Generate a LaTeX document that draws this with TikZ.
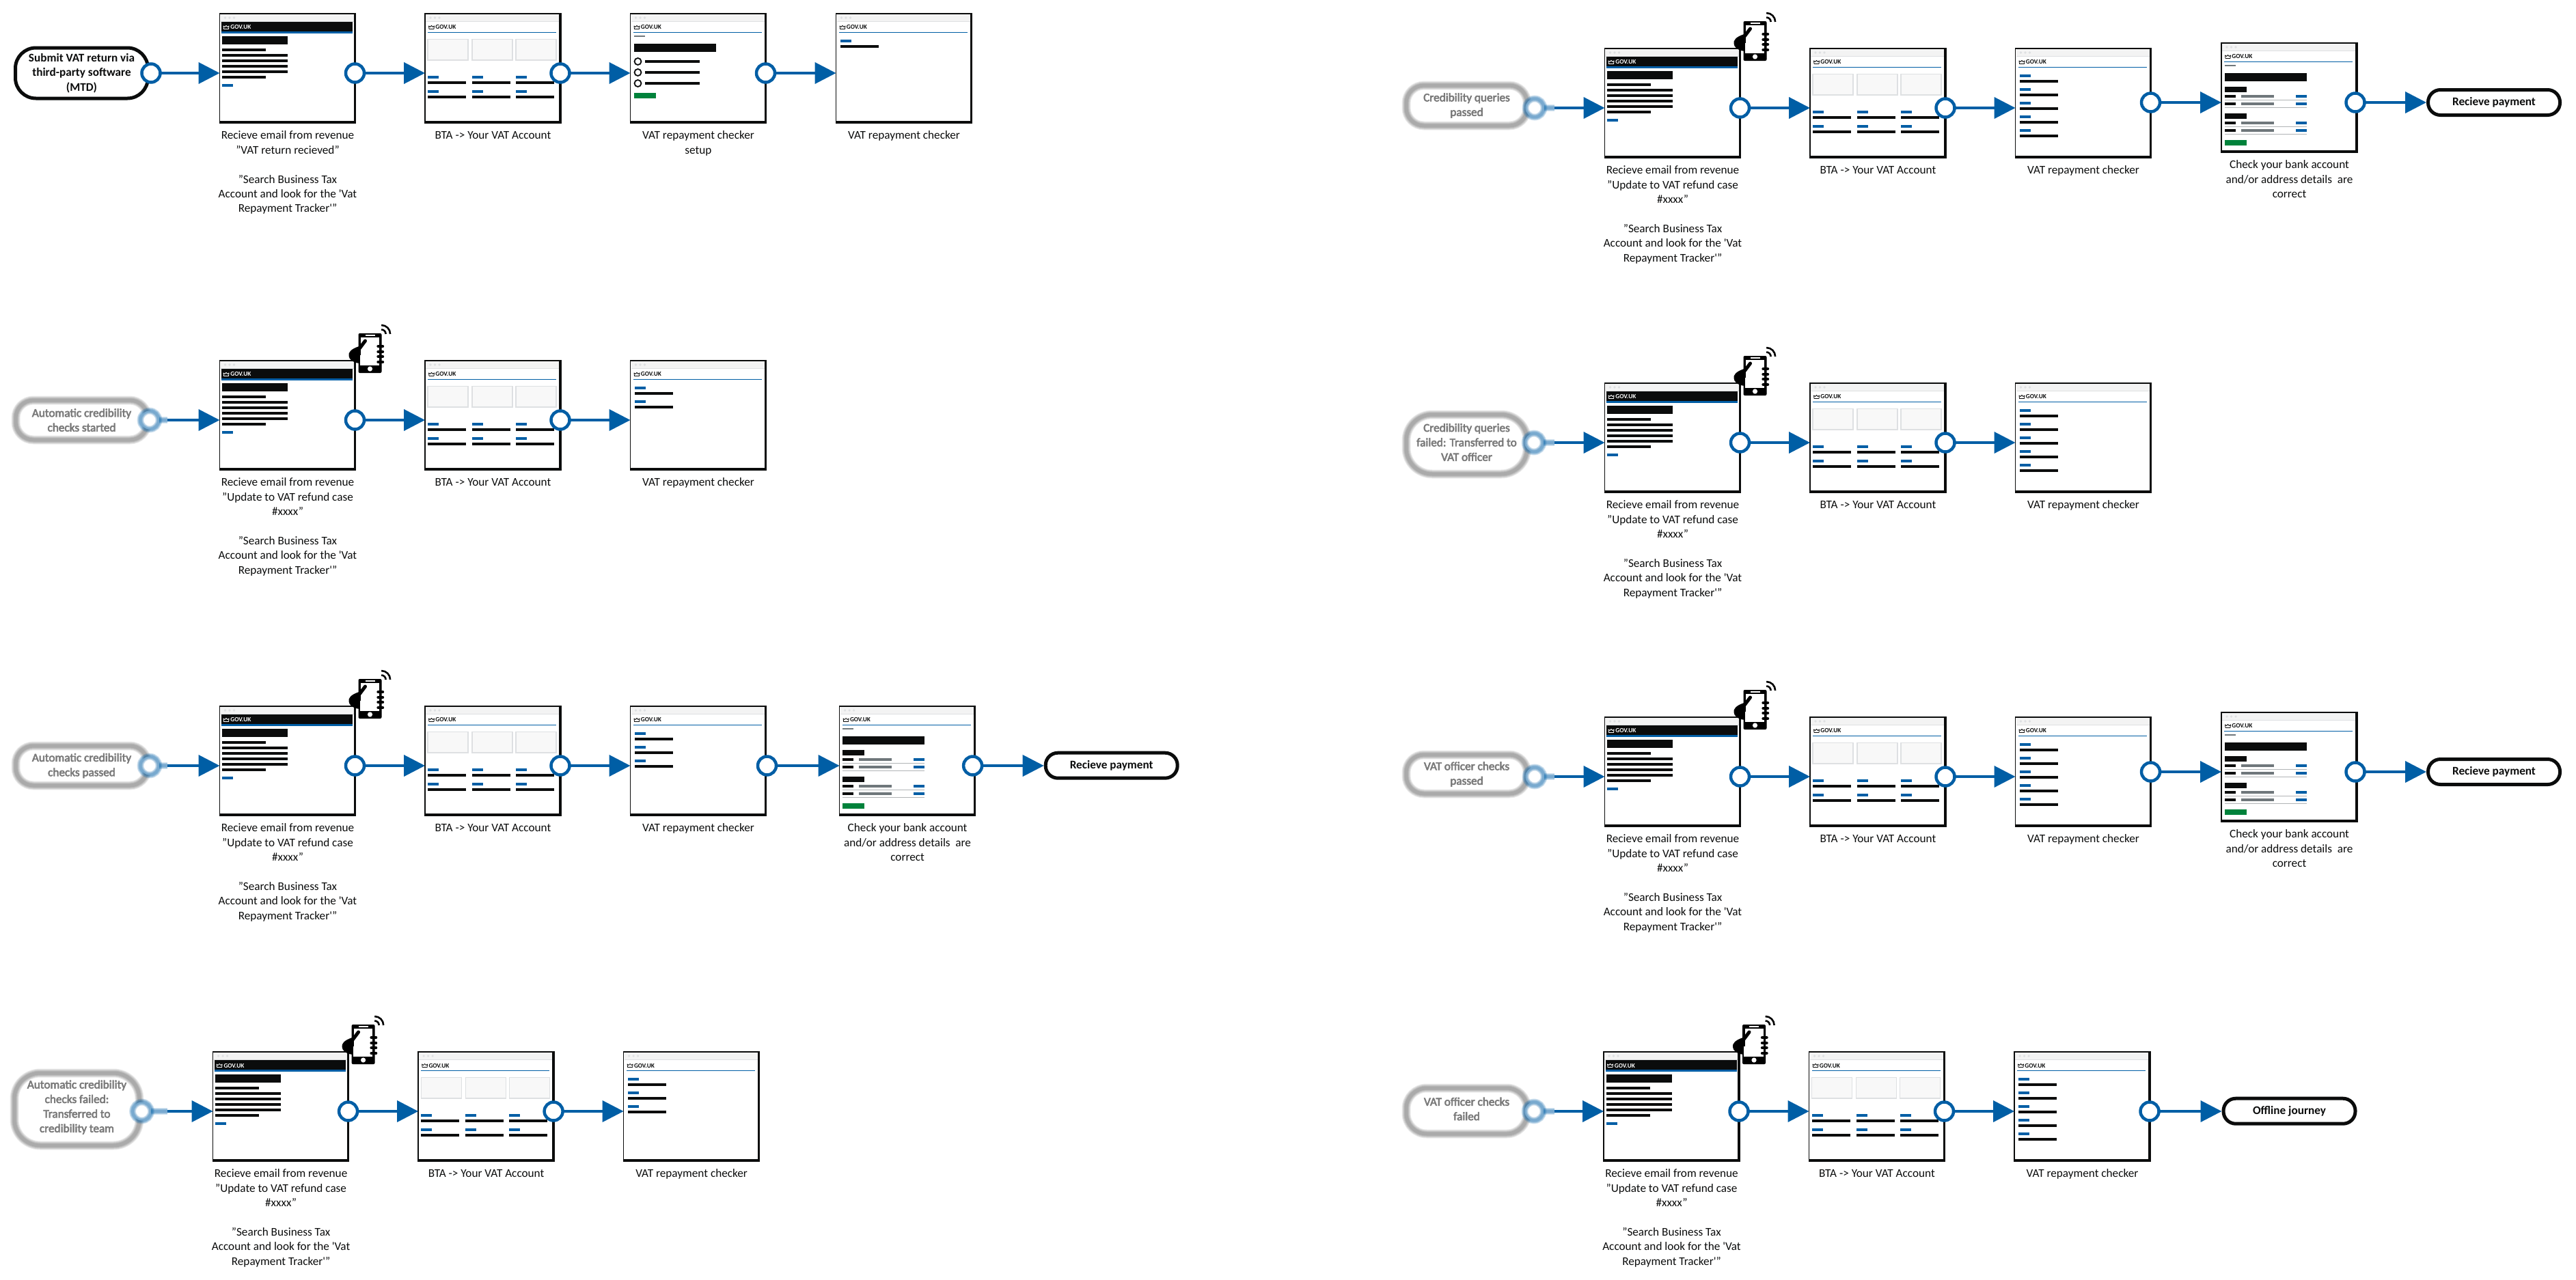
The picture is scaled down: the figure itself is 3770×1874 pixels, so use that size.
\documentclass[tikz,border=0pt]{standalone}
\usepackage{fontspec}
\setmainfont{Carlito}
\newfontfamily\blurfont[FakeBold=3.5]{Carlito}
\usetikzlibrary{positioning,calc,arrows.meta}
\definecolor{govBlue}{HTML}{005EA5}
\definecolor{inkBlack}{HTML}{0B0C0C}
\definecolor{govGreen}{HTML}{00823B}
\definecolor{govGrey}{HTML}{6F777B}
\definecolor{barGrey}{HTML}{F3F3F3}
\definecolor{barLine}{HTML}{DEE0E2}
\definecolor{cardGrey}{HTML}{F8F8F8}
\definecolor{ruleGrey}{HTML}{B1B4B6}
\tikzset{
  screen/.style = {rectangle, draw=inkBlack, fill=white, line width=.75pt, inner sep=0, outer sep=0, minimum width=99.5pt, minimum height=80pt},
  caption/.style = {align=center, inner sep=0, text=inkBlack, font=\fontsize{8.6}{10.7}\selectfont},
  logo/.style = {anchor=west, inner sep=0, font=\fontsize{4.6}{5}\selectfont\bfseries},
  port/.style = {circle, draw=govBlue, fill=white, line width=2.25pt, minimum size=13.5pt, inner sep=0, outer sep=0},
  flow/.style = {draw=govBlue, line width=2pt, -{Triangle[length=15.5pt,width=15.5pt]}, fill=govBlue},
  pill/.style = {rectangle, draw=inkBlack, fill=white, line width=2.5pt, rounded corners=#1, align=center, inner sep=0, font=\fontsize{8.6}{10.7}\selectfont\bfseries, text=inkBlack},
  pill/.default = 9pt,
  blurlabel/.style = {align=center, inner sep=0, text=black!52, font=\blurfont\fontsize{8.6}{10.7}\selectfont},
  blurport/.style = {circle, fill=white, minimum size=13.5pt, inner sep=0, outer sep=0}
}
% browser bar, common to all pages
\newcommand{\screenbox}[2]{
  \node[screen, #2] (#1) {};
  \begin{scope}[shift={(#1.north west)}]
    \fill[barGrey] (1,1) rectangle (196,11);
    \fill[barLine] (1,11) rectangle (196,12);
    \foreach \dotx in {8,14.5,21} \fill[barLine] (\dotx,6) circle (1.8);
    \fill[inkBlack] (196,0) rectangle (199,160);
    \fill[inkBlack] (0,157) rectangle (199,160);
  \end{scope}
}
\newcommand{\crownmark}[1]{
  \draw[#1, line width=.4pt, line join=round] (5.5,18) -- (6,22.5) -- (13,22.5) -- (13.5,18) -- (11.5,19.5) -- (9.5,17.5) -- (7.5,19.5) -- cycle;
}
\newcommand{\lighthead}[1]{
  \crownmark{inkBlack}
  \node[logo, text=inkBlack] (#1logo) at (15,20) {GOV.UK};
  \fill[govBlue] (4,27) rectangle (192,28);
}
\newcommand{\emailpage}[1]{
  \begin{scope}[shift={(#1.north west)}]
    \fill[inkBlack] (2.5,12) rectangle (194.5,26);
    \fill[govBlue] (2.5,26) rectangle (194.5,28.5);
    \crownmark{white}
    \node[logo, text=white] (#1logo) at (15.5,20) {GOV.UK};
    \fill[inkBlack] (3.5,33) rectangle (99.5,45);
    \foreach \liney/\linex in {51/67.5,59/99.5,67/99.5,75/99.5,83/99.5,91/67.5}
      \fill[inkBlack] (3.5,\liney) rectangle (\linex,\liney+4);
    \fill[govBlue] (3.5,103) rectangle (19.5,107);
  \end{scope}
}
\newcommand{\accountpage}[1]{
  \begin{scope}[shift={(#1.north west)}]
    \lighthead{#1}
    \foreach \colx in {4,69,133} {
      \draw[barLine, fill=cardGrey, line width=.6pt] (\colx,37.5) rectangle (\colx+59,68);
      \foreach \liney in {91,112} {
        \fill[govBlue] (\colx,\liney) rectangle (\colx+16,\liney+4);
        \fill[inkBlack] (\colx,\liney+8) rectangle (\colx+56,\liney+12);
      }
    }
  \end{scope}
}
\newcommand{\setuppage}[1]{
  \begin{scope}[shift={(#1.north west)}]
    \lighthead{#1}
    \fill[govGrey] (5,32) rectangle (21,34);
    \fill[inkBlack] (5,44) rectangle (125,56);
    \foreach \liney in {70,86,102} {
      \draw[inkBlack, line width=.9pt] (11,\liney) circle (5);
      \fill[inkBlack] (21,\liney-2) rectangle (101,\liney+2);
    }
    \fill[govGreen] (5,116) rectangle (37,124);
  \end{scope}
}
\newcommand{\checkerpage}[2]{
  \begin{scope}[shift={(#1.north west)}]
    \lighthead{#1}
    \foreach \k in {1,...,#2} {
      \fill[govBlue] (6,18+20*\k) rectangle (22,22+20*\k);
      \fill[inkBlack] (6,26+20*\k) rectangle (62,30+20*\k);
    }
  \end{scope}
}
\newcommand{\bankpage}[1]{
  \begin{scope}[shift={(#1.north west)}]
    \lighthead{#1}
    \fill[govGrey] (4.6,32) rectangle (20.6,34);
    \fill[inkBlack] (4.6,44) rectangle (124.6,56);
    \foreach \blocky in {64,103} {
      \fill[inkBlack] (4.6,\blocky) rectangle (36.6,\blocky+8);
      \foreach \liney in {12,23} {
        \fill[inkBlack] (4.6,\blocky+\liney) rectangle (20.6,\blocky+\liney+4);
        \fill[govGrey] (28.6,\blocky+\liney) rectangle (76.6,\blocky+\liney+4);
        \fill[govBlue] (108.6,\blocky+\liney) rectangle (124.6,\blocky+\liney+4);
        \fill[ruleGrey] (4.6,\blocky+\liney+7) rectangle (124.6,\blocky+\liney+8);
      }
    }
    \fill[govGreen] (4.6,142) rectangle (36.6,150);
  \end{scope}
}
\newcommand{\phonemark}[1]{
  \begin{scope}[shift={(#1.north west)}]
    \fill[black, rounded corners=1pt] (203,-40) rectangle (237,18);
    \fill[white] (206.5,-34.5) rectangle (233.5,7);
    \fill[white] (213,-38) rectangle (227,-36.5);
    \fill[white] (220,12) circle (3.6);
    \fill[black] (204,-21) .. controls (192,-17) and (188,-12) .. (189,-7) .. controls (189.5,-2) and (194,1) .. (199,3) -- (205,4) -- (205,-8) -- cycle;
    \draw[black, line width=2.5pt, line cap=round] (213,-29) -- (204,-17);
    \fill[white] (205,-8) rectangle (206.5,7);
    \foreach \fingery in {-21,-13,-6,2}
      \draw[black, line width=2.2pt, line cap=round] (232,\fingery) -- (238.5,\fingery);
    \draw[black, line width=1.3pt] (236.6,-45.5) .. controls (240.2,-45.5) and (243.1,-42.6) .. (243.1,-39);
    \draw[black, line width=1.3pt] (236.6,-52) .. controls (243.8,-52) and (249.6,-46.2) .. (249.6,-39);
  \end{scope}
}
\newcommand{\blurstart}[9]{
  \coordinate (#1nw) at (#2,#3);
  \coordinate (#1se) at (#4,#5);
  \coordinate (#1end) at (#9);
  \foreach \w in {6.5,5.5,4.5,3.5,2.5}
    \draw[black, opacity=.08, line width=\w pt, rounded corners=#6] (#1nw) rectangle (#1se);
  \node[blurport] (#1port) at (#8) {};
  \foreach \w in {5,4,3,2}
    \draw[govBlue, opacity=.17, line width=\w pt] (#1port) -- (#1end);
  \foreach \w in {5,4,3,2}
    \draw[govBlue, opacity=.17, line width=\w pt] (#1port) circle (13.5);
  \node[blurlabel] (#1text) at ($(#1nw)!.5!(#1se)$) {#7};
}
\newcommand{\emailtext}{Recieve email from revenue\\"Update to VAT refund case\\\#xxxx"\\[10.7pt]"Search Business Tax\\Account and look for the \textquotesingle Vat\\Repayment Tracker\textquotesingle"}
\newcommand{\banktext}{Check your bank account\\and/or address details \ are\\correct}

\begin{document}
\begin{tikzpicture}[x=0.5pt, y=-0.5pt, node distance=50.75pt]
  \useasboundingbox (0,0) rectangle (3770,1874);

  % first row, left
  \screenbox{a0}{anchor=north west, at={(321.5,20)}}
  \emailpage{a0}
  \screenbox{b0}{right=of a0}
  \accountpage{b0}
  \screenbox{c0}{right=of b0}
  \setuppage{c0}
  \screenbox{d0}{right=51pt of c0}
  \checkerpage{d0}{1}
  \node[caption, below=5.8pt of a0] (a0text) {Recieve email from revenue\\"VAT return recieved"\\[10.7pt]"Search Business Tax\\Account and look for the \textquotesingle Vat\\Repayment Tracker\textquotesingle"};
  \node[caption, below=5.8pt of b0] (b0text) {BTA -> Your VAT Account};
  \node[caption, below=5.8pt of c0] (c0text) {VAT repayment checker\\setup};
  \node[caption, below=5.8pt of d0] (d0text) {VAT repayment checker};
  \node[pill=15pt, minimum width=97pt, minimum height=37pt, font=\fontsize{8.6}{10.7}\selectfont\bfseries] (start0) at (119.5,107) {Submit VAT return via\\third-party software\\(MTD)};
  \node[port] (p0) at ([xshift=1pt]start0.east) {};
  \draw[flow] (p0) -- (p0 -| a0.west);
  \foreach \s/\t in {a0/b0,b0/c0,c0/d0} {
    \node[port] (\s port) at ([shift={(-1,7)}]\s.east) {};
    \draw[flow] (\s port) -- (\s port -| \t.west);
  }

  % the rows with a text message
  \foreach \row/\xa/\ya/\n in {1/321.5/528/2, 2/321.5/1034/3, 3/311.6/1540/3, 4/2348.5/71/5, 5/2348.5/561/5, 6/2348.5/1050/5, 7/2347/1540/5} {
    \screenbox{a\row}{anchor=north west, at={(\xa,\ya)}}
    \emailpage{a\row}
    \screenbox{b\row}{right=of a\row}
    \accountpage{b\row}
    \screenbox{c\row}{right=of b\row}
    \checkerpage{c\row}{\n}
    \phonemark{a\row}
    \node[caption, below=5.8pt of a\row] (a\row text) {\emailtext};
    \node[caption, below=5.8pt of b\row] (b\row text) {BTA -> Your VAT Account};
    \node[caption, below=5.8pt of c\row] (c\row text) {VAT repayment checker};
    \node[port] (a\row port) at ([shift={(-1,7)}]a\row.east) {};
    \draw[flow] (a\row port) -- (a\row port -| b\row.west);
    \node[port] (b\row port) at ([shift={(-1,7)}]b\row.east) {};
    \draw[flow] (b\row port) -- (b\row port -| c\row.west);
  }

  % blurred starts
  \blurstart{s1}{23}{586}{216}{644}{13pt}{Automatic credibility\\checks started}{219,615}{245,615}
  \blurstart{s2}{23}{1092}{216}{1150}{13pt}{Automatic credibility\\checks passed}{219,1121}{245,1121}
  \begin{scope}[blurlabel/.append style={yshift=1.5pt}]
    \blurstart{s3}{21}{1571}{204}{1677}{19pt}{Automatic credibility\\checks failed:\\Transferred to\\credibility team}{207.6,1627}{245,1627}
    \blurstart{s5}{2058}{607}{2235}{694}{19pt}{Credibility queries\\failed: Transferred to\\VAT officer}{2245,648}{2275,648}
    \blurstart{s7}{2058}{1593}{2235}{1660}{15pt}{VAT officer checks\\failed}{2245,1627}{2275,1627}
  \end{scope}
  \blurstart{s4}{2058}{125}{2235}{184}{13pt}{Credibility queries\\passed}{2246,158}{2275,158}
  \blurstart{s6}{2058}{1105}{2235}{1162}{13pt}{VAT officer checks\\passed}{2246,1137}{2275,1137}
  \foreach \row in {1,...,7}
    \draw[flow] (s\row end) -- (s\row end -| a\row.west);

  % payment steps
  \screenbox{d2}{anchor=north west, at={(1228.6,1034)}}
  \bankpage{d2}
  \node[caption, below=5.8pt of d2] (d2text) {\banktext};
  \node[port] (c2port) at ([shift={(1,7)}]c2.east) {};
  \draw[flow] (c2port) -- (c2port -| d2.west);
  \node[port] (d2port) at ([shift={(-4,7)}]d2.east) {};
  \node[pill, minimum width=96.5pt, minimum height=18.5pt] (e2) at (1626.7,1120.7) {Recieve payment};
  \draw[flow] (d2port) -- (d2port -| e2.west);

  \screenbox{d4}{anchor=north west, at={(3251,63)}}
  \bankpage{d4}
  \node[caption, below=5.8pt of d4] (d4text) {\banktext};
  \node[port] (c4port) at ([shift={(-1,-1)}]c4.east) {};
  \draw[flow] (c4port) -- (c4port -| d4.west);
  \node[port] (d4port) at ([shift={(-3,7)}]d4.east) {};
  \node[pill, minimum width=96.5pt, minimum height=18.5pt] (e4) at (3650,150) {Recieve payment};
  \draw[flow] (d4port) -- (d4port -| e4.west);

  \screenbox{d6}{anchor=north west, at={(3251,1043)}}
  \bankpage{d6}
  \node[caption, below=5.8pt of d6] (d6text) {\banktext};
  \node[port] (c6port) at ([shift={(-1,0)}]c6.east) {};
  \draw[flow] (c6port) -- (c6port -| d6.west);
  \node[port] (d6port) at ([shift={(-3,7)}]d6.east) {};
  \node[pill, minimum width=96.5pt, minimum height=18.5pt] (e6) at (3650,1130) {Recieve payment};
  \draw[flow] (d6port) -- (d6port -| e6.west);

  \node[port] (c7port) at ([shift={(-1,7)}]c7.east) {};
  \node[pill, minimum width=96.5pt, minimum height=18.5pt] (e7) at (3350.5,1626.7) {Offline journey};
  \draw[flow] (c7port) -- (c7port -| e7.west);
\end{tikzpicture}
\end{document}
